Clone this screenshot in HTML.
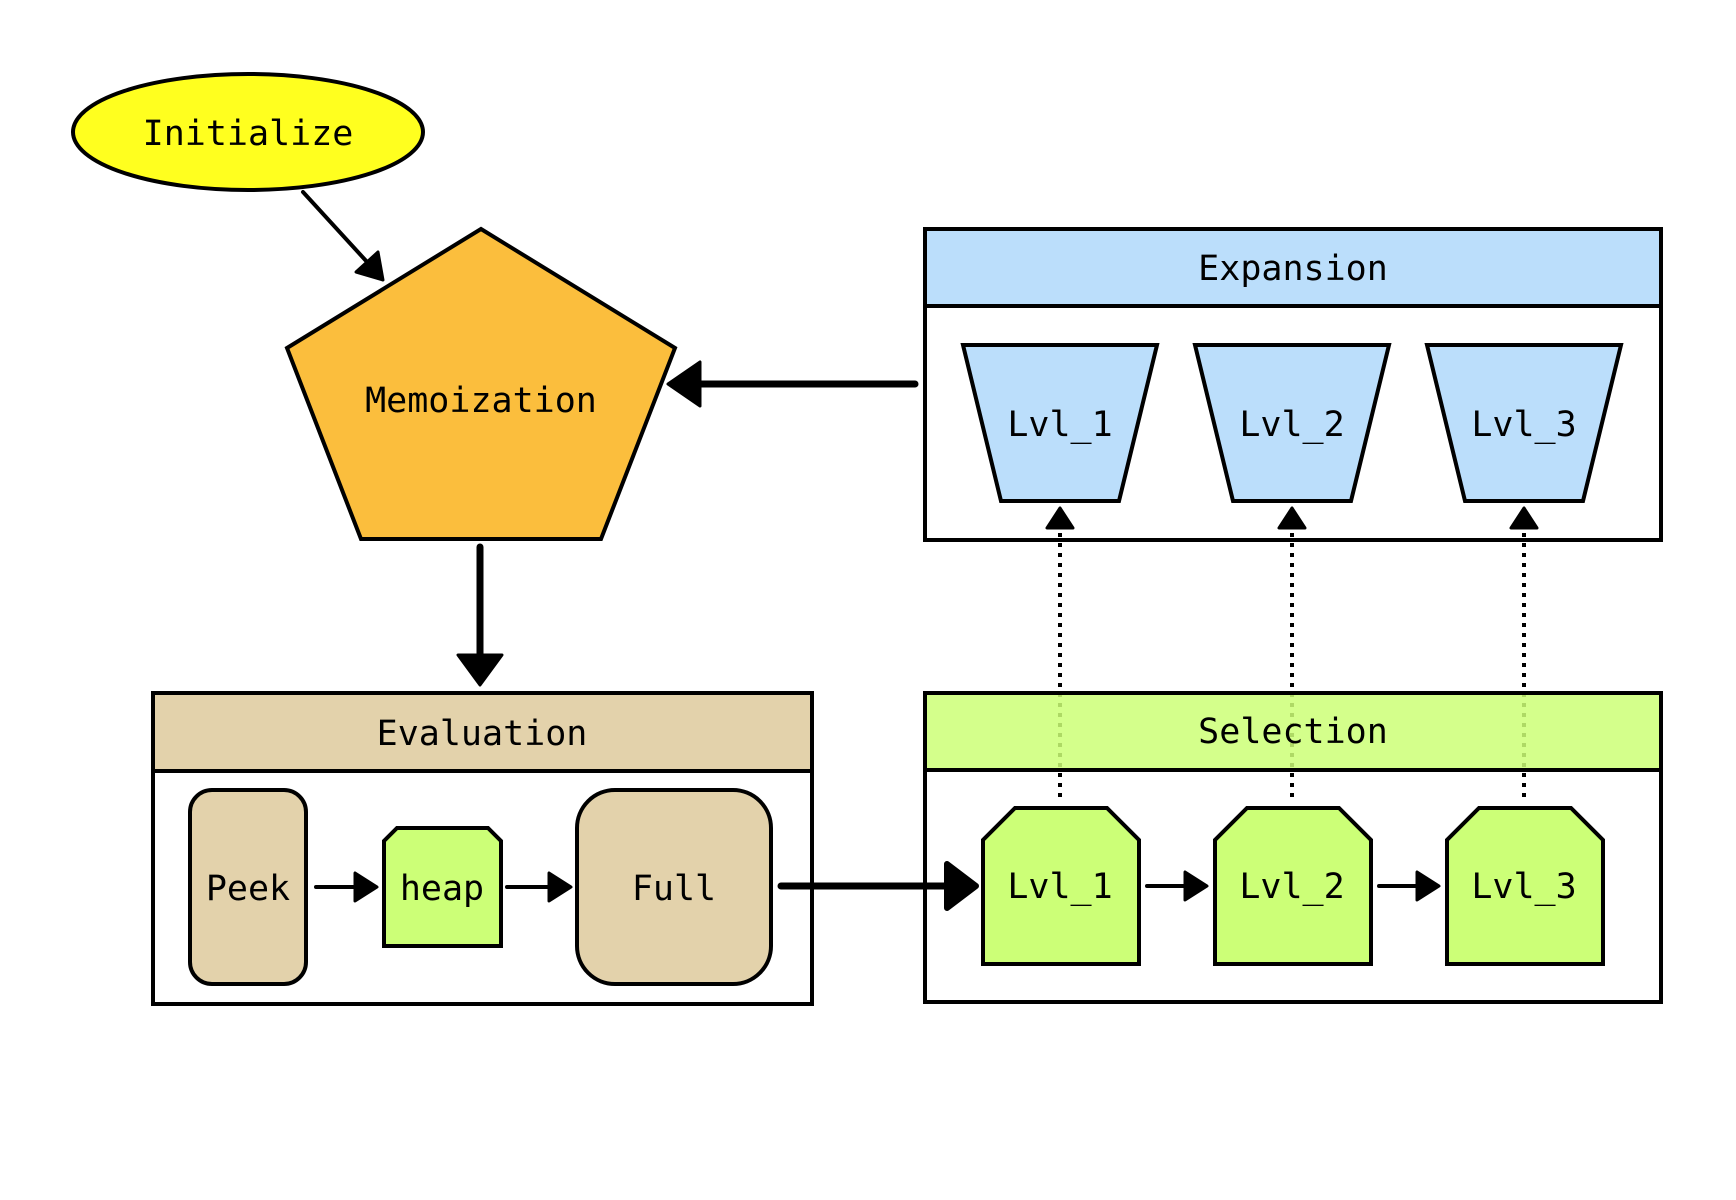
<!DOCTYPE html>
<html><head><meta charset="utf-8"><style>html,body{margin:0;padding:0;background:#fff}svg{display:block}text{font-family:"DejaVu Sans Mono","Liberation Mono",monospace;font-size:35px;fill:#000}</style></head><body>
<svg width="1736" height="1200" viewBox="0 0 1736 1200" xmlns="http://www.w3.org/2000/svg">
<ellipse cx="248" cy="132" rx="175" ry="58" fill="#ffff1f" stroke="#000" stroke-width="4"/>
<text x="248" y="145" text-anchor="middle">Initialize</text>
<polygon points="481,229 675,348 601,539 361,539 287,348" fill="#fbbe3d" stroke="#000" stroke-width="4"/>
<text x="481" y="412" text-anchor="middle">Memoization</text>
<g stroke="#000" stroke-linejoin="round" stroke-linecap="round">
<line x1="303" y1="192" x2="368" y2="263" stroke-width="4"/>
<polygon points="383,280 356,272 378,252" fill="#000" stroke-width="3"/>
<line x1="915" y1="384" x2="695" y2="384" stroke-width="7"/>
<polygon points="668,384 700,362 700,406" fill="#000" stroke-width="3"/>
<line x1="480" y1="547" x2="480" y2="660" stroke-width="7"/>
<polygon points="480,685 458,655 502,655" fill="#000" stroke-width="3"/>
</g>
<!-- Expansion -->
<rect x="925" y="229" width="736" height="311" fill="#fff" stroke="#000" stroke-width="4"/>
<rect x="925" y="229" width="736" height="77" fill="#bbdefb" stroke="#000" stroke-width="4"/>
<text x="1293" y="280" text-anchor="middle">Expansion</text>
<g fill="#bbdefb" stroke="#000" stroke-width="4">
<polygon points="963,345 1157,345 1119,501 1001,501"/>
<polygon points="1195,345 1389,345 1351,501 1233,501"/>
<polygon points="1427,345 1621,345 1583,501 1465,501"/>
</g>
<text x="1060" y="436" text-anchor="middle">Lvl_1</text>
<text x="1292" y="436" text-anchor="middle">Lvl_2</text>
<text x="1524" y="436" text-anchor="middle">Lvl_3</text>
<!-- Selection body -->
<rect x="925" y="693" width="736" height="309" fill="#fff" stroke="#000" stroke-width="4"/>
<g stroke="#000" stroke-width="4" stroke-dasharray="4 6" fill="none">
<line x1="1060" y1="797" x2="1060" y2="525"/>
<line x1="1292" y1="797" x2="1292" y2="525"/>
<line x1="1524" y1="797" x2="1524" y2="525"/>
</g>
<g fill="#000" stroke="#000" stroke-width="3" stroke-linejoin="round">
<polygon points="1060,508 1047,528 1073,528"/>
<polygon points="1292,508 1279,528 1305,528"/>
<polygon points="1524,508 1511,528 1537,528"/>
</g>
<rect x="925" y="693" width="736" height="77" fill="#ccff77" fill-opacity="0.85" stroke="#000" stroke-width="4"/>
<text x="1293" y="743" text-anchor="middle">Selection</text>
<!-- Evaluation -->
<rect x="153" y="693" width="659" height="311" fill="#fff" stroke="#000" stroke-width="4"/>
<rect x="153" y="693" width="659" height="78" fill="#e3d2ab" stroke="#000" stroke-width="4"/>
<text x="482" y="745" text-anchor="middle">Evaluation</text>
<rect x="190" y="790" width="116" height="194" rx="22" fill="#e3d2ab" stroke="#000" stroke-width="4"/>
<text x="248" y="900" text-anchor="middle">Peek</text>
<polygon points="397,828 488,828 501,841 501,946 384,946 384,841" fill="#ccff77" stroke="#000" stroke-width="4"/>
<text x="442" y="900" text-anchor="middle">heap</text>
<rect x="577" y="790" width="194" height="194" rx="38" fill="#e3d2ab" stroke="#000" stroke-width="4"/>
<text x="674" y="900" text-anchor="middle">Full</text>
<g fill="#ccff77" stroke="#000" stroke-width="4">
<polygon points="1015,808 1107,808 1139,840 1139,964 983,964 983,840"/>
<polygon points="1247,808 1339,808 1371,840 1371,964 1215,964 1215,840"/>
<polygon points="1479,808 1571,808 1603,840 1603,964 1447,964 1447,840"/>
</g>
<text x="1060" y="898" text-anchor="middle">Lvl_1</text>
<text x="1292" y="898" text-anchor="middle">Lvl_2</text>
<text x="1524" y="898" text-anchor="middle">Lvl_3</text>
<g stroke="#000" stroke-linejoin="round" stroke-linecap="round">
<line x1="316" y1="887" x2="356" y2="887" stroke-width="4"/>
<polygon points="377,887 355,873 355,901" fill="#000" stroke-width="3"/>
<line x1="507" y1="887" x2="550" y2="887" stroke-width="4"/>
<polygon points="571,887 549,873 549,901" fill="#000" stroke-width="3"/>
<line x1="1147" y1="886" x2="1186" y2="886" stroke-width="4"/>
<polygon points="1207,886 1185,872 1185,900" fill="#000" stroke-width="3"/>
<line x1="1379" y1="886" x2="1418" y2="886" stroke-width="4"/>
<polygon points="1439,886 1417,872 1417,900" fill="#000" stroke-width="3"/>
<line x1="781" y1="886" x2="950" y2="886" stroke-width="7"/>
<polygon points="976,886 947,864 947,908" fill="#000" stroke-width="6"/>
</g>
</svg>
</body></html>
